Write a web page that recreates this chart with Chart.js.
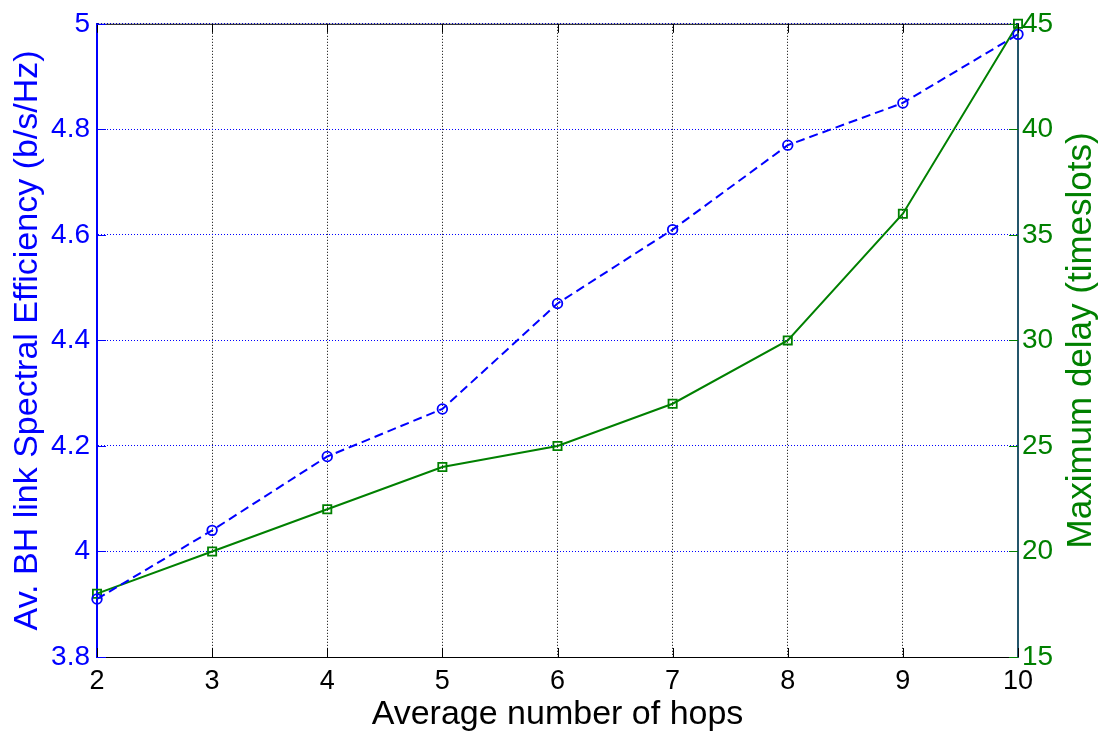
<!DOCTYPE html>
<html>
<head>
<meta charset="utf-8">
<script src="https://cdn.jsdelivr.net/npm/chart.js@4.4.1/dist/chart.umd.min.js"></script>
<style>
  html, body { margin: 0; padding: 0; background: #fff; }
  #wrap { width: 1099px; height: 731px; }
</style>
</head>
<body>
<div id="wrap"><canvas id="hopsChart"></canvas></div>
<script>
/* ---------- data ---------- */
const hops = [2, 3, 4, 5, 6, 7, 8, 9, 10];
const spectralEff = [3.91, 4.04, 4.18, 4.27, 4.47, 4.61, 4.77, 4.85, 4.98];
const maxDelay = [18, 20, 22, 24, 25, 27, 30, 36, 45];
const effTicks = [3.8, 4.0, 4.2, 4.4, 4.6, 4.8, 5.0];
const delayTicks = [15, 20, 25, 30, 35, 40, 45];

const BLUE = '#0000ff';
const GREEN = '#008000';
const RIGHT_AXIS = '#24566b';
const FONT = 'Liberation Sans, Arial, sans-serif';

/* ---------- box, inward ticks and right-hand title ---------- */
const framePlugin = {
    id: 'frame',
    afterDraw(chart) {
        const { ctx, chartArea: { left, right, top, bottom }, scales: { x, y, y1 } } = chart;
        ctx.save();
        ctx.lineWidth = 1;

        // top border
        ctx.strokeStyle = '#000';
        ctx.beginPath();
        ctx.moveTo(left, top + 0.5);
        ctx.lineTo(right, top + 0.5);
        ctx.stroke();

        // x ticks, bottom and top
        x.ticks.forEach(t => {
            const px = Math.round(x.getPixelForValue(t.value)) + 0.5;
            ctx.beginPath();
            ctx.moveTo(px, bottom);
            ctx.lineTo(px, bottom - 9);
            ctx.moveTo(px, top);
            ctx.lineTo(px, top + 9);
            ctx.stroke();
        });

        // left ticks
        ctx.strokeStyle = BLUE;
        y.ticks.forEach(t => {
            const py = Math.round(y.getPixelForValue(t.value)) + 0.5;
            ctx.beginPath();
            ctx.moveTo(left, py);
            ctx.lineTo(left + 9, py);
            ctx.stroke();
        });

        // right ticks
        ctx.strokeStyle = GREEN;
        y1.ticks.forEach(t => {
            const py = Math.round(y1.getPixelForValue(t.value)) + 0.5;
            ctx.beginPath();
            ctx.moveTo(right - 9, py);
            ctx.lineTo(right, py);
            ctx.stroke();
        });

        // right axis title, reading bottom to top
        ctx.translate(right + 63, (top + bottom) / 2);
        ctx.rotate(-Math.PI / 2);
        ctx.fillStyle = GREEN;
        ctx.font = '35px ' + FONT;
        ctx.textAlign = 'center';
        ctx.textBaseline = 'middle';
        ctx.fillText('Maximum delay (timeslots)', 0, 0);
        ctx.restore();
    }
};

/* ---------- chart ---------- */
const ctx = document.getElementById('hopsChart').getContext('2d');
new Chart(ctx, {
    type: 'line',
    data: {
        datasets: [
            {
                label: 'Spectral efficiency',
                data: hops.map((h, i) => ({ x: h, y: spectralEff[i] })),
                yAxisID: 'y',
                borderColor: BLUE,
                borderWidth: 2,
                borderDash: [9, 5],
                pointStyle: 'circle',
                pointRadius: 4.8,
                pointBorderWidth: 1.8,
                pointBorderColor: BLUE,
                pointBackgroundColor: 'rgba(0,0,0,0)',
                tension: 0,
                fill: false,
                clip: false
            },
            {
                label: 'Maximum delay',
                data: hops.map((h, i) => ({ x: h, y: maxDelay[i] })),
                yAxisID: 'y1',
                borderColor: GREEN,
                borderWidth: 2,
                pointStyle: 'rect',
                pointRadius: 5.8,
                pointBorderWidth: 1.8,
                pointBorderColor: GREEN,
                pointBackgroundColor: 'rgba(0,0,0,0)',
                tension: 0,
                fill: false,
                clip: false
            }
        ]
    },
    options: {
        responsive: true,
        maintainAspectRatio: false,
        animation: false,
        layout: { padding: { top: 18, left: 0, right: 0, bottom: 0 } },
        plugins: {
            legend: { display: false },
            tooltip: { enabled: false }
        },
        scales: {
            x: {
                type: 'linear',
                min: 2,
                max: 10,
                afterFit: s => { s.height = 74; },
                afterBuildTicks: s => { s.ticks = hops.map(v => ({ value: v })); },
                ticks: {
                    color: '#000',
                    font: { family: FONT, size: 27 },
                    padding: 8,
                    maxRotation: 0
                },
                grid: {
                    color: '#000',
                    lineWidth: 1,
                    drawTicks: false
                },
                border: { display: true, color: '#000', width: 1, dash: [1, 2] },
                title: {
                    display: true,
                    text: 'Average number of hops',
                    color: '#000',
                    font: { family: FONT, size: 34 },
                    padding: { top: 0, bottom: -4 }
                }
            },
            y: {
                type: 'linear',
                position: 'left',
                min: 3.8,
                max: 5,
                afterFit: s => { s.width = 97; },
                afterBuildTicks: s => { s.ticks = effTicks.map(v => ({ value: v })); },
                ticks: {
                    color: BLUE,
                    font: { family: FONT, size: 28 },
                    padding: 7,
                    callback: v => String(Math.round(v * 10) / 10)
                },
                grid: {
                    color: BLUE,
                    lineWidth: 1,
                    drawTicks: false
                },
                border: { display: true, color: BLUE, width: 2, dash: [1, 2] },
                title: {
                    display: true,
                    text: 'Av. BH link Spectral Efficiency (b/s/Hz)',
                    color: BLUE,
                    font: { family: FONT, size: 34 },
                    padding: { top: 7, bottom: 0 }
                }
            },
            y1: {
                type: 'linear',
                position: 'right',
                min: 15,
                max: 45,
                afterFit: s => { s.width = 81; },
                afterBuildTicks: s => { s.ticks = delayTicks.map(v => ({ value: v })); },
                ticks: {
                    color: GREEN,
                    font: { family: FONT, size: 28 },
                    padding: 4
                },
                grid: {
                    drawOnChartArea: false,
                    drawTicks: false
                },
                border: { display: true, color: RIGHT_AXIS, width: 2 }
            }
        }
    },
    plugins: [framePlugin]
});
</script>
</body>
</html>
